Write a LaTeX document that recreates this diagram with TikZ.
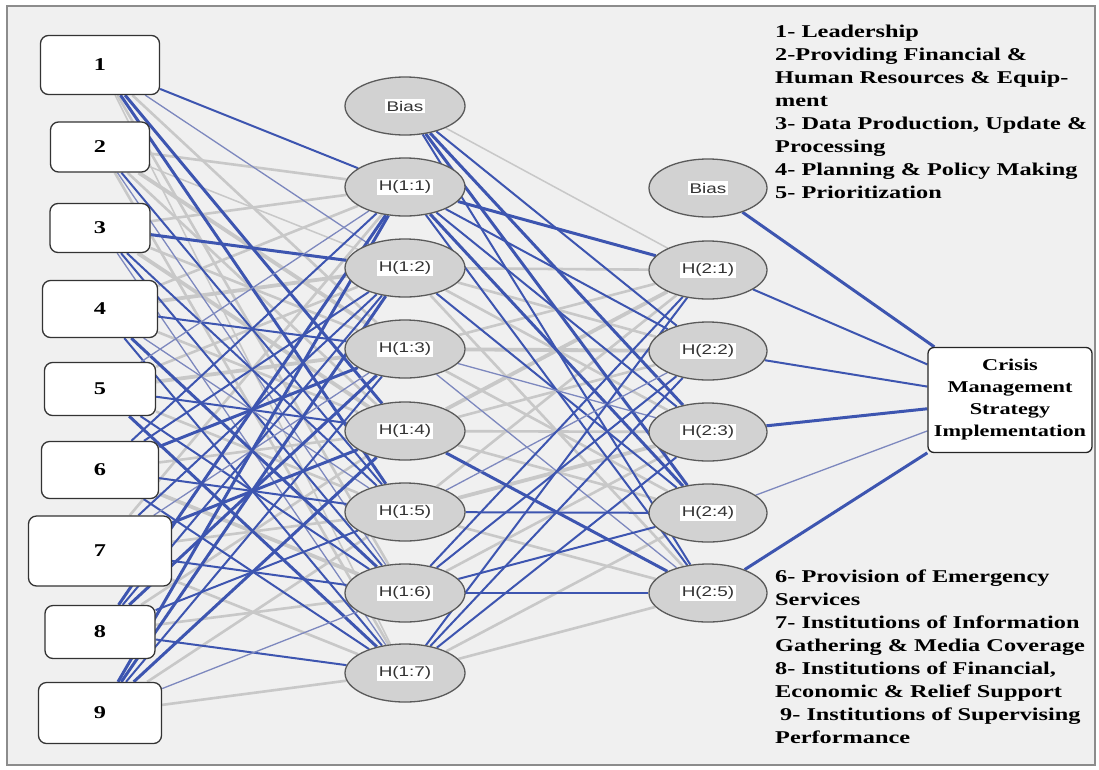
\documentclass[tikz,border=0pt]{standalone}
\usepackage{fontspec}
\newfontfamily\serifbf{Liberation Serif}[FakeStretch=1.35]
\newfontfamily\sanslbl{Liberation Sans}[FakeStretch=1.35]
\usetikzlibrary{shapes.geometric}
\definecolor{bgc}{HTML}{F0F0F0}
\definecolor{nnblue}{HTML}{3D55B0}
\definecolor{nnlblue}{HTML}{7D88BE}
\definecolor{nngray}{HTML}{C8C8C8}
\definecolor{ellfill}{HTML}{D2D2D2}
\definecolor{ellline}{HTML}{5A5A5A}
\pgfdeclarelayer{back}
\pgfdeclarelayer{bg}
\pgfsetlayers{back,bg,main}
\setlength{\fboxsep}{1.5pt}
\begin{document}
\begin{tikzpicture}[x=1pt,y=-1pt,
  inbox/.style={draw=black!80, line width=1.3pt, fill=white, rounded corners=8pt,
    font=\serifbf\bfseries\fontsize{18}{22}\selectfont, inner sep=0pt},
  neuron/.style={ellipse, draw=ellline, line width=1.3pt, fill=ellfill,
    minimum width=120pt, minimum height=58pt, inner sep=0pt,
    font=\sanslbl\fontsize{14}{16}\selectfont, text=black!80},
  outbox/.style={draw=black!85, line width=1.3pt, fill=white, rounded corners=6pt,
    align=center, inner sep=0pt, font=\serifbf\bfseries\fontsize{16.5}{22}\selectfont},
  legend/.style={anchor=north west, inner sep=0pt, align=left,
    font=\serifbf\bfseries\fontsize{18}{23}\selectfont},
  w-1/.style={draw=nngray, line width=1.5pt},
  w-2/.style={draw=nngray, line width=2.6pt},
  w-3/.style={draw=nngray, line width=3.8pt},
  w1/.style={draw=nnlblue, line width=1.3pt},
  w2/.style={draw=nnblue, line width=2pt},
  w3/.style={draw=nnblue, line width=3pt}
]
\useasboundingbox (0,0) rectangle (1099,769);
\begin{pgfonlayer}{back}
  \fill[white] (0,0) rectangle (1099,769);
  \draw[draw=black!45, fill=bgc, line width=1.5pt] (7,6) rectangle (1095,765);
\end{pgfonlayer}

% input boxes
\node[inbox, minimum width=119pt, minimum height=59pt] (in1) at (100,65) {1};
\node[inbox, minimum width=99pt,  minimum height=50pt] (in2) at (100,147) {2};
\node[inbox, minimum width=100pt, minimum height=49pt] (in3) at (100,228) {3};
\node[inbox, minimum width=115pt, minimum height=57pt] (in4) at (100,309) {4};
\node[inbox, minimum width=111pt, minimum height=53pt] (in5) at (100,389) {5};
\node[inbox, minimum width=117pt, minimum height=57pt] (in6) at (100,470) {6};
\node[inbox, minimum width=143pt, minimum height=70pt] (in7) at (100,551) {7};
\node[inbox, minimum width=110pt, minimum height=53pt] (in8) at (100,632) {8};
\node[inbox, minimum width=123pt, minimum height=61pt] (in9) at (100,713) {9};

% hidden layer 1
\node[neuron] (h1b) at (405,106) {\colorbox{white}{Bias}};
\foreach \j/\y in {1/187,2/268,3/349,4/431,5/512,6/593,7/673}
  \node[neuron] (ha\j) at (405,\y) {\colorbox{white}{H(1:\j)}};

% hidden layer 2
\node[neuron, minimum width=118pt] (h2b) at (708,188) {\colorbox{white}{Bias}};
\foreach \k/\y in {1/270,2/351,3/432,4/513,5/593}
  \node[neuron, minimum width=118pt] (hb\k) at (708,\y) {\colorbox{white}{H(2:\k)}};

% output
\node[outbox, minimum width=164pt, minimum height=105pt] (out) at (1010,400)
  {Crisis\\Management\\Strategy\\Implementation};

% legends
\node[legend] (legA) at (775,24.5) {1- Leadership\\2-Providing Financial \&\\Human Resources \& Equip-\\ment\\3- Data Production, Update \&\\Processing\\4- Planning \& Policy Making\\5- Prioritization};
\node[legend] (legB) at (775,569.5) {6- Provision of Emergency\\Services\\7- Institutions of Information\\Gathering \& Media Coverage\\8- Institutions of Financial,\\Economic \& Relief Support\\\hspace{5pt}9- Institutions of Supervising\\Performance};

% connectors
\begin{pgfonlayer}{bg}
\foreach \pass in {1,2}{
  \foreach \i/\row in {
    1/{2,1,-2,3,3,-2,-1},
    2/{-2,-1,-3,-2,2,1,-2},
    3/{-2,3,-2,-3,2,2,1},
    4/{-2,-3,2,-2,1,3,2},
    5/{1,-2,-3,2,-2,2,3},
    6/{2,2,3,-2,2,-3,2},
    7/{-2,2,1,3,-2,2,-2},
    8/{3,2,3,-2,2,-2,2},
    9/{3,3,2,3,-2,1,-2}}{
    \foreach \s [count=\j] in \row {
      \ifnum\pass=1 \ifnum\s<0\relax \draw[w\s] (in\i) -- (ha\j);\fi
      \else \ifnum\s>0\relax \draw[w\s] (in\i) -- (ha\j);\fi\fi
    }
  }
  \foreach \src/\row in {
    h1b/{-1,2,3,3,2},
    ha1/{3,2,2,3,2},
    ha2/{-2,-2,-2,2,-2},
    ha3/{-2,-3,1,-2,1},
    ha4/{-3,-2,-2,-2,3},
    ha5/{-2,1,-3,2,-2},
    ha6/{2,2,-2,2,2},
    ha7/{2,2,2,-2,-2}}{
    \foreach \s [count=\k] in \row {
      \ifnum\pass=1 \ifnum\s<0\relax \draw[w\s] (\src) -- (hb\k);\fi
      \else \ifnum\s>0\relax \draw[w\s] (\src) -- (hb\k);\fi\fi
    }
  }
}
\foreach \src/\s in {h2b/3, hb1/2, hb2/2, hb3/3, hb4/1, hb5/3}
  \draw[w\s] (\src) -- (out);
\end{pgfonlayer}
\end{tikzpicture}
\end{document}
